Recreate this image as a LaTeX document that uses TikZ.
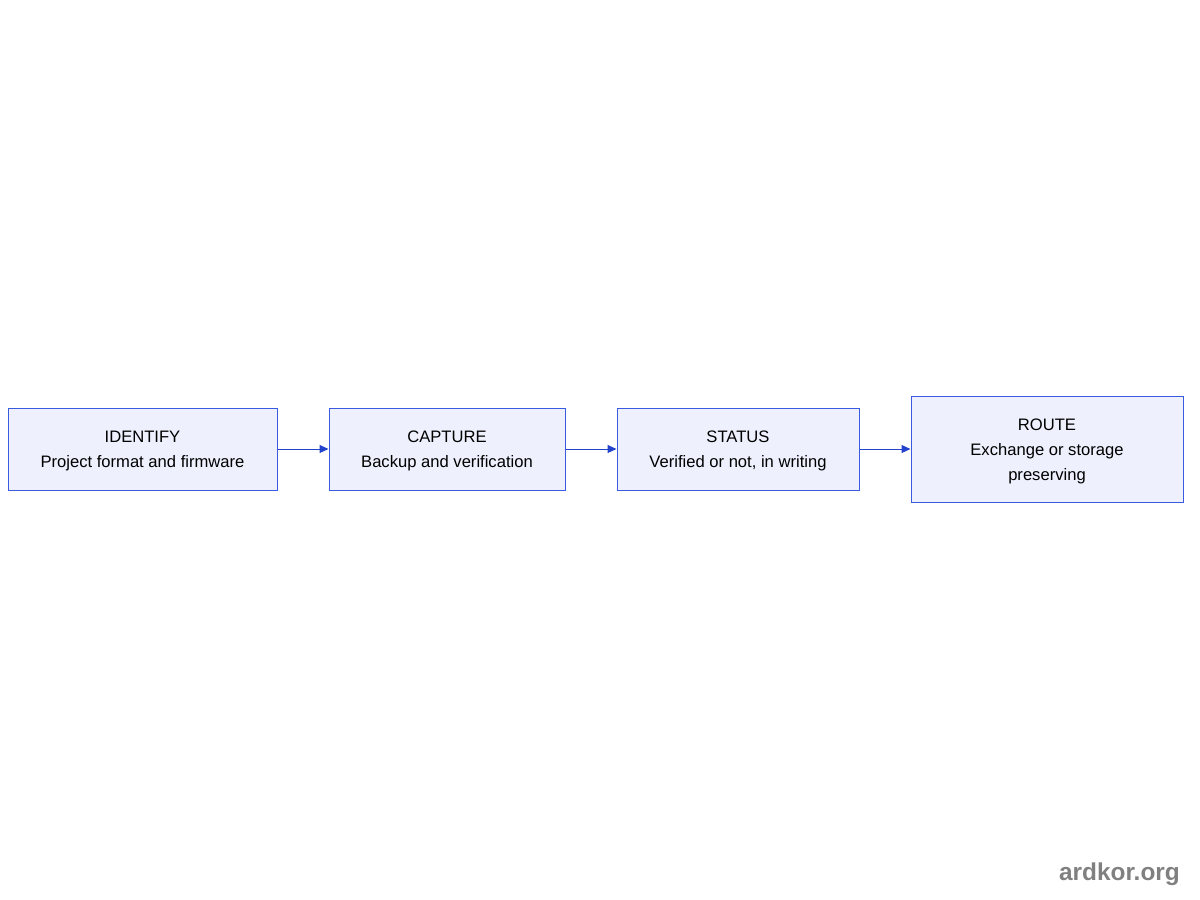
\documentclass[tikz,border=0pt]{standalone}
\usepackage{fontspec}
\setmainfont{Liberation Sans}
\usetikzlibrary{arrows.meta}
\definecolor{boxfill}{HTML}{EEF1FD}
\definecolor{boxline}{HTML}{3A5BE0}
\definecolor{arrowc}{HTML}{2443CC}
\definecolor{wm}{HTML}{808080}
\begin{document}
\begin{tikzpicture}[x=1pt,y=-1pt,
  stepbox/.style={draw=boxline,fill=boxfill,line width=1pt,inner sep=0pt},
  steptext/.style={inner sep=0pt,align=center,yshift=-2pt,
    font=\fontsize{16.6}{25}\selectfont,text=black},
  flow/.style={draw=arrowc,line width=1pt,-{Triangle[length=9pt,width=8pt]}}]
\useasboundingbox (0,0) rectangle (1200,900);
\node[stepbox,minimum width=269pt,minimum height=82pt,
  label={[steptext]center:IDENTIFY\\Project format and firmware}] (a) at (142.5,449) {};
\node[stepbox,minimum width=236pt,minimum height=82pt,
  label={[steptext]center:CAPTURE\\Backup and verification}] (b) at (447,449) {};
\node[stepbox,minimum width=242pt,minimum height=82pt,
  label={[steptext]center:STATUS\\Verified or not, in writing}] (c) at (738,449) {};
\node[stepbox,minimum width=272pt,minimum height=106pt,
  label={[steptext]center:ROUTE\\Exchange or storage\\preserving}] (d) at (1047,449) {};
\draw[flow] (a) -- (b);
\draw[flow] (b) -- (c);
\draw[flow] (c) -- (d);
\node[anchor=east,font=\fontsize{24.4}{28}\selectfont\bfseries,text=wm,inner sep=0pt] (w) at (1180,874) {ardkor.org};
\end{tikzpicture}
\end{document}
